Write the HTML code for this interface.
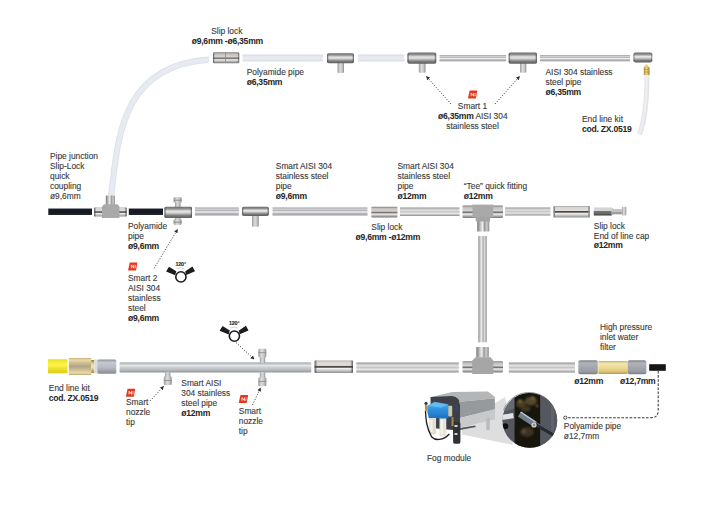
<!DOCTYPE html>
<html><head><meta charset="utf-8">
<style>
html,body{margin:0;padding:0;background:#fff;width:720px;height:513px;overflow:hidden}
svg{display:block}
text{font-family:"Liberation Sans",sans-serif;font-size:8.4px;fill:#3a3a3a;stroke:#3a3a3a;stroke-width:.12px}
.b{font-weight:bold;fill:#262626;stroke:none;font-size:8.6px;letter-spacing:-.25px}
</style></head><body>
<svg width="720" height="513" viewBox="0 0 720 513">
<defs>
<linearGradient id="st" x1="0" y1="0" x2="0" y2="1">
<stop offset="0" stop-color="#9c9694"/><stop offset=".2" stop-color="#d8d6d6"/><stop offset=".38" stop-color="#b4b4ba"/><stop offset=".55" stop-color="#eef0f6"/><stop offset=".75" stop-color="#b8b8bc"/><stop offset="1" stop-color="#9a9898"/>
</linearGradient>
<linearGradient id="stb" x1="0" y1="0" x2="0" y2="1">
<stop offset="0" stop-color="#8a8e92"/><stop offset=".1" stop-color="#babec2"/><stop offset=".3" stop-color="#e2e4e6"/><stop offset=".48" stop-color="#cdd0d3"/><stop offset=".75" stop-color="#b6babe"/><stop offset="1" stop-color="#909498"/>
</linearGradient>
<linearGradient id="nz" x1="0" y1="0" x2="1" y2="0">
<stop offset="0" stop-color="#9a9a9a"/><stop offset=".4" stop-color="#dcdcdc"/><stop offset=".7" stop-color="#c8c8c8"/><stop offset="1" stop-color="#8e8e8e"/>
</linearGradient>
<linearGradient id="ft" x1="0" y1="0" x2="0" y2="1">
<stop offset="0" stop-color="#807a78"/><stop offset=".15" stop-color="#c4bfbc"/><stop offset=".4" stop-color="#d6d2d0"/><stop offset=".55" stop-color="#6e6e6e"/><stop offset=".68" stop-color="#f4f4f4"/><stop offset=".85" stop-color="#aaaaaa"/><stop offset="1" stop-color="#747474"/>
</linearGradient>
<linearGradient id="ftv" x1="0" y1="0" x2="1" y2="0">
<stop offset="0" stop-color="#777"/><stop offset=".25" stop-color="#bdbdbd"/><stop offset=".45" stop-color="#f2f2f2"/><stop offset=".6" stop-color="#9a9a9a"/><stop offset=".8" stop-color="#cfcac4"/><stop offset="1" stop-color="#8a8a8a"/>
</linearGradient>
<linearGradient id="blk" x1="0" y1="0" x2="0" y2="1">
<stop offset="0" stop-color="#111"/><stop offset=".35" stop-color="#3a3a3a"/><stop offset=".6" stop-color="#161616"/><stop offset="1" stop-color="#0c0c0c"/>
</linearGradient>
<linearGradient id="wh" x1="0" y1="0" x2="0" y2="1">
<stop offset="0" stop-color="#d6dae4"/><stop offset=".2" stop-color="#e2e5ee"/><stop offset=".6" stop-color="#eaecf4"/><stop offset="1" stop-color="#d9dce6"/>
</linearGradient>
<linearGradient id="br" x1="0" y1="0" x2="0" y2="1">
<stop offset="0" stop-color="#9a7a3a"/><stop offset=".3" stop-color="#e6d49a"/><stop offset=".55" stop-color="#f3e6b8"/><stop offset="1" stop-color="#a5853f"/>
</linearGradient>
<linearGradient id="sf" x1="0" y1="0" x2="0" y2="1">
<stop offset="0" stop-color="#8a8e96"/><stop offset=".2" stop-color="#c4c8d0"/><stop offset=".55" stop-color="#b8bcc6"/><stop offset="1" stop-color="#868a92"/>
</linearGradient>
<linearGradient id="ye" x1="0" y1="0" x2="0" y2="1">
<stop offset="0" stop-color="#e8e020"/><stop offset=".4" stop-color="#fff34a"/><stop offset="1" stop-color="#d9cc10"/>
</linearGradient>
<marker id="ah" viewBox="0 0 6 6" refX="5" refY="3" markerWidth="4" markerHeight="4" orient="auto-start-reverse" markerUnits="userSpaceOnUse">
<path d="M0,0 L6,3 L0,6 Z" fill="#333"/>
</marker>
<g id="nic"><path d="M1.6,.3 Q1.8,0 2.2,0 H9 Q9.3,0 9.25,.4 L8,7.6 Q7.9,8 7.5,8 H.3 Q0,8 .05,7.6 Z" fill="#e4361a"/><path d="M2.7,2.4 H3.7 L5.3,4.6 V2.4 H6.2 V5.8 H5.3 L3.6,3.6 V5.8 H2.7 Z M6.8,2.4 H7.5 V5.8 H6.8 Z" fill="#fbe6e0"/></g>
<linearGradient id="hx" x1="0" y1="0" x2="0" y2="1">
<stop offset="0" stop-color="#c4aa70"/><stop offset=".12" stop-color="#eadcae"/><stop offset=".3" stop-color="#cdbd92"/><stop offset=".5" stop-color="#b2a686"/><stop offset=".7" stop-color="#cdbd92"/><stop offset=".88" stop-color="#eadcae"/><stop offset="1" stop-color="#bca46a"/>
</linearGradient>
<linearGradient id="sf2" x1="0" y1="0" x2="0" y2="1">
<stop offset="0" stop-color="#7d8187"/><stop offset=".2" stop-color="#b0b4ba"/><stop offset=".5" stop-color="#a4a8ae"/><stop offset=".8" stop-color="#9a9ea4"/><stop offset="1" stop-color="#7a7e84"/>
</linearGradient>
<linearGradient id="bf" x1="0" y1="0" x2="0" y2="1">
<stop offset="0" stop-color="#c8b060"/><stop offset=".2" stop-color="#f2e6b0"/><stop offset=".5" stop-color="#ecdc98"/><stop offset=".8" stop-color="#dcc878"/><stop offset="1" stop-color="#b89c50"/>
</linearGradient>
<linearGradient id="sl" x1="0" y1="0" x2="0" y2="1">
<stop offset="0" stop-color="#a8a4a0"/><stop offset=".12" stop-color="#d8d4d0"/><stop offset=".4" stop-color="#e2dfdc"/><stop offset=".47" stop-color="#4a4a4a"/><stop offset=".55" stop-color="#555"/><stop offset=".62" stop-color="#f4f4f4"/><stop offset=".78" stop-color="#cfcfcf"/><stop offset="1" stop-color="#909090"/>
</linearGradient>
<linearGradient id="ec" x1="0" y1="0" x2="1" y2="0">
<stop offset="0" stop-color="#6a6a6a"/><stop offset=".35" stop-color="#8e8e8e"/><stop offset=".6" stop-color="#c8c8c8"/><stop offset=".85" stop-color="#d8d8d8"/><stop offset="1" stop-color="#9a9a9a"/>
</linearGradient>
<linearGradient id="vp" x1="0" y1="0" x2="1" y2="0">
<stop offset="0" stop-color="#8a8a8a"/><stop offset=".2" stop-color="#c8c8c8"/><stop offset=".42" stop-color="#f0f0f0"/><stop offset=".55" stop-color="#a8a8ac"/><stop offset=".75" stop-color="#dcdcdc"/><stop offset="1" stop-color="#8e8e8e"/>
</linearGradient>
<linearGradient id="bk2" x1="0" y1="0" x2="0" y2="1">
<stop offset="0" stop-color="#2a2e38"/><stop offset=".2" stop-color="#141820"/><stop offset=".8" stop-color="#181c24"/><stop offset="1" stop-color="#2a2e36"/>
</linearGradient>
<linearGradient id="stc" x1="0" y1="0" x2="0" y2="1">
<stop offset="0" stop-color="#8e8e8e"/><stop offset=".14" stop-color="#bcbcbc"/><stop offset=".32" stop-color="#e2e2e2"/><stop offset=".5" stop-color="#c6c6c8"/><stop offset=".7" stop-color="#e6e6e6"/><stop offset=".88" stop-color="#b4b4b4"/><stop offset="1" stop-color="#8a8a8a"/>
</linearGradient>
<linearGradient id="te" x1="0" y1="0" x2="0" y2="1">
<stop offset="0" stop-color="#6a6a6a"/><stop offset=".18" stop-color="#8e8e8e"/><stop offset=".4" stop-color="#e6e6e6"/><stop offset=".55" stop-color="#d2d2d2"/><stop offset=".78" stop-color="#7e7e7e"/><stop offset="1" stop-color="#5e5e5e"/>
</linearGradient>
<linearGradient id="rim" x1="0" y1="0" x2="1" y2="0">
<stop offset="0" stop-color="#444" stop-opacity=".85"/><stop offset=".07" stop-color="#444" stop-opacity="0"/><stop offset=".93" stop-color="#444" stop-opacity="0"/><stop offset="1" stop-color="#444" stop-opacity=".85"/>
</linearGradient>
<linearGradient id="gn" x1="0" y1="0" x2="1" y2="0">
<stop offset="0" stop-color="#b08a30"/><stop offset=".45" stop-color="#f0dc90"/><stop offset="1" stop-color="#a88228"/>
</linearGradient>
</defs>

<!-- ===== TOP ROW ===== -->
<path d="M111,196 C117.9,145.4 117.3,65.7 209,59.7" fill="none" stroke="#dcdfe8" stroke-width="6.2"/>
<path d="M111,196 C117.9,145.4 117.3,65.7 209,59.7" fill="none" stroke="#e8eaf2" stroke-width="4.6"/>
<rect x="213" y="52.3" width="26.2" height="11" rx="1.5" fill="url(#ft)"/><rect x="213" y="52.3" width="26.2" height="11" rx="1.5" fill="url(#rim)"/><rect x="225" y="52.5" width="1" height="10.6" fill="#8a8480" opacity=".7"/>

<rect x="242.5" y="54.5" width="80.5" height="7" fill="url(#wh)"/>
<rect x="358" y="54.5" width="46.5" height="7" fill="url(#wh)"/>
<g id="teeA">
<rect x="337.5" y="60" width="6.5" height="13" rx="1" fill="url(#nz)"/>
<rect x="327" y="53.2" width="27" height="10" rx="2" fill="url(#te)"/><rect x="327" y="53.2" width="27" height="10" rx="2" fill="url(#rim)"/>
</g>
<rect x="418.8" y="60" width="6.7" height="12.8" rx="1" fill="url(#nz)"/>
<rect x="407.5" y="52.5" width="28.7" height="11.2" rx="2" fill="url(#te)"/><rect x="407.5" y="52.5" width="28.7" height="11.2" rx="2" fill="url(#rim)"/>
<rect x="439.5" y="55" width="66.7" height="6.3" fill="url(#st)"/>
<rect x="520" y="60" width="6.3" height="12.8" rx="1" fill="url(#nz)"/>
<rect x="508.7" y="52.5" width="28.3" height="11.2" rx="2" fill="url(#te)"/><rect x="508.7" y="52.5" width="28.3" height="11.2" rx="2" fill="url(#rim)"/>
<rect x="540" y="55" width="90" height="6.3" fill="url(#st)"/>
<rect x="633.6" y="52.6" width="18.6" height="9.8" rx="1.8" fill="url(#te)"/><rect x="633.6" y="52.6" width="18.6" height="9.8" rx="1.8" fill="url(#rim)"/>
<path d="M646.9,75 C647.2,100 645.5,118 639.5,134.5" fill="none" stroke="#e2e4e8" stroke-width="5"/>
<path d="M646.6,75 C646.9,100 645.2,118 639.2,134.5" fill="none" stroke="#eef0f2" stroke-width="2"/>
<path d="M646.4,63.6 L648.3,66.5 L649.5,67.5 V75 H643.8 V67.5 L644.6,66.5 Z" fill="url(#gn)"/><path d="M644,69.5 H649.3 M644,72 H649.3" stroke="#9a7a30" stroke-width=".5"/>

<text x="211.2" y="34.3">Slip lock</text>
<text class="b" x="191.7" y="43.8">ø9,6mm -ø6,35mm</text>
<text x="246.7" y="75">Polyamide pipe</text>
<text class="b" x="246.7" y="85">ø6,35mm</text>
<text x="545.5" y="75">AISI 304 stainless</text>
<text x="545.5" y="85">steel pipe</text>
<text class="b" x="545.5" y="95">ø6,35mm</text>
<text x="582" y="122.2">End line kit</text>
<text class="b" x="582" y="132.1">cod. ZX.0519</text>
<use href="#nic" x="468" y="90.5"/>
<text x="472.5" y="109.3" text-anchor="middle">Smart 1</text>
<text x="472.8" y="118.8" text-anchor="middle"><tspan class="b">ø6,35mm</tspan> AISI 304</text>
<text x="472.5" y="128.5" text-anchor="middle">stainless steel</text>
<path d="M451,104 L426.5,76.5" stroke="#333" stroke-width=".8" stroke-dasharray="1.3 1.4" fill="none" marker-end="url(#ah)"/><path d="M495,104 L519.5,76.5" stroke="#333" stroke-width=".8" stroke-dasharray="1.3 1.4" fill="none" marker-end="url(#ah)"/>

<!-- ===== MIDDLE ROW ===== -->
<rect x="48.3" y="208.5" width="43.7" height="6.5" fill="url(#bk2)"/>
<rect x="128.8" y="208.5" width="34.2" height="6.5" fill="url(#bk2)"/>
<rect x="105.8" y="195.6" width="9.1" height="9.5" rx=".8" fill="url(#ftv)"/>
<rect x="94" y="207.4" width="32.7" height="9.1" rx="1" fill="url(#sl)"/><rect x="94" y="207.4" width="32.7" height="9.1" rx="1" fill="url(#rim)"/><path d="M104,204.3 H117.4 L119.4,206.5 V217.9 H102 V206.5 Z" fill="#a9a9a9"/>
<rect x="175" y="197.5" width="5.5" height="27" fill="url(#nz)"/><rect x="173.6" y="197.3" width="8" height="5.5" rx="1" fill="url(#nz)"/><rect x="173.6" y="199.8" width="8" height=".7" fill="#777"/><rect x="173.6" y="219.2" width="8" height="5.6" rx="1" fill="url(#nz)"/><rect x="173.6" y="221.8" width="8" height=".7" fill="#777"/>
<rect x="164.5" y="206.7" width="27.5" height="11.3" rx="1.5" fill="url(#te)"/><rect x="164.5" y="206.7" width="27.5" height="11.3" rx="1.5" fill="url(#rim)"/>
<rect x="195" y="207.5" width="43.8" height="8" fill="url(#st)"/>
<rect x="252" y="214" width="6.8" height="12.8" rx="1" fill="url(#nz)"/>
<rect x="242" y="206.8" width="26.8" height="9.2" rx="2" fill="url(#te)"/><rect x="242" y="206.8" width="26.8" height="9.2" rx="2" fill="url(#rim)"/>
<rect x="272.5" y="207.5" width="95" height="8" fill="url(#st)"/>
<rect x="371.3" y="206.8" width="26.2" height="10.7" rx="1" fill="url(#ft)"/>
<rect x="400" y="207.5" width="59.5" height="8.5" fill="url(#stc)"/>
<rect x="477.2" y="219" width="12.1" height="12.5" fill="url(#ftv)"/>
<rect x="462.5" y="205.5" width="40.5" height="12.5" rx="1" fill="url(#ft)"/>
<rect x="472.5" y="204.6" width="20.7" height="12.9" fill="#a9a9a9"/><rect x="475.7" y="217" width="14.4" height="4.4" fill="#a4a4a4"/>
<rect x="505" y="207.5" width="45.5" height="8" fill="url(#stc)"/>
<rect x="553.5" y="206.1" width="36.2" height="11.3" rx="1" fill="url(#sl)"/><rect x="553.5" y="206.3" width="1.5" height="11" fill="#8a8a8a"/><rect x="588.3" y="206.3" width="1.5" height="11" fill="#8a8a8a"/>
<rect x="593.8" y="207.4" width="18" height="8.1" fill="#d4d4d4"/><rect x="593.8" y="211.3" width="18" height="4.2" fill="#4e4e4e"/><rect x="593.8" y="212.6" width="18" height=".8" fill="#9a9a9a"/>
<polygon points="611.5,207.6 614,209 621.9,209 621.9,214.6 614,214.6 611.5,215.4" fill="#c4c4c4"/><rect x="611.8" y="212.5" width="10" height="1" fill="#777"/>
<rect x="621.9" y="206.8" width="4.4" height="8.7" rx="1" fill="url(#nz)"/>

<text x="50" y="159.3">Pipe junction</text>
<text x="50" y="169.3">Slip-Lock</text>
<text x="50" y="179.3">quick</text>
<text x="50" y="189.3">coupling</text>
<text x="50" y="199.3">ø9,6mm</text>
<text x="128" y="229.3">Polyamide</text>
<text x="128" y="239.3">pipe</text>
<text class="b" x="128" y="249.3">ø9,6mm</text>
<text x="275.8" y="169.3">Smart AISI 304</text>
<text x="275.8" y="179.3">stainless steel</text>
<text x="275.8" y="189.3">pipe</text>
<text class="b" x="275.8" y="199.3">ø9,6mm</text>
<text x="397.5" y="169.3">Smart AISI 304</text>
<text x="397.5" y="179.3">stainless steel</text>
<text x="397.5" y="189.3">pipe</text>
<text class="b" x="397.5" y="199.3">ø12mm</text>
<text x="463.8" y="189.3">“Tee” quick fitting</text>
<text class="b" x="463.8" y="199.3">ø12mm</text>
<text x="371.3" y="230.1">Slip lock</text>
<text class="b" x="355.5" y="240.1">ø9,6mm -ø12mm</text>
<text x="593.8" y="228.5">Slip lock</text>
<text x="593.8" y="238.5">End of line cap</text>
<text class="b" x="593.8" y="248.4">ø12mm</text>
<use href="#nic" x="128.1" y="262.4"/>
<text x="128" y="281.3">Smart 2</text>
<text x="128" y="291.3">AISI 304</text>
<text x="128" y="301.3">stainless</text>
<text x="128" y="311.3">steel</text>
<text class="b" x="128" y="321.3">ø9,6mm</text>
<path d="M154,268.5 L177.5,229.5" stroke="#333" stroke-width=".8" stroke-dasharray="1.3 1.4" fill="none" marker-end="url(#ah)"/>

<!-- vertical pipe -->
<rect x="478.3" y="236" width="8.4" height="106.3" fill="url(#vp)"/>

<!-- ===== BOTTOM ROW ===== -->
<rect x="48" y="359.2" width="19.5" height="14.1" fill="url(#ye)"/>
<rect x="68.8" y="357.9" width="22.5" height="17.1" rx=".8" fill="url(#hx)"/>
<rect x="91.2" y="360" width="3.2" height="13" fill="url(#br)"/><rect x="94.4" y="359.5" width="3.6" height="14" fill="#dcdcdc"/>
<rect x="97.5" y="359.5" width="18.8" height="14.2" rx="1.5" fill="url(#sf)"/>
<rect x="119.5" y="362.5" width="191.8" height="10" rx="1" fill="url(#stb)"/>
<rect x="165" y="372.3" width="5.4" height="5" fill="url(#nz)"/><rect x="163.8" y="376.5" width="8" height="8.5" rx="1.2" fill="url(#nz)"/><rect x="163.8" y="380" width="8" height=".8" fill="#8a8a8a"/>
<rect x="259.8" y="356" width="5.4" height="7" fill="url(#nz)"/><rect x="258.3" y="348.8" width="8" height="8.5" rx="1.2" fill="url(#nz)"/><rect x="258.3" y="352.3" width="8" height=".8" fill="#8a8a8a"/>
<rect x="259.8" y="372.3" width="5.4" height="6" fill="url(#nz)"/><rect x="258.3" y="377.5" width="8" height="8.8" rx="1.2" fill="url(#nz)"/><rect x="258.3" y="381" width="8" height=".8" fill="#8a8a8a"/>
<rect x="314.6" y="360.4" width="38.4" height="12.6" rx="1" fill="url(#sl)"/><rect x="314.6" y="360.4" width="38.4" height="12.6" rx="1" fill="url(#rim)"/>
<rect x="356.3" y="362.5" width="102.5" height="10" fill="url(#stc)"/>
<rect x="476.3" y="347" width="12.5" height="10.5" fill="url(#ftv)"/>
<rect x="462.5" y="361.3" width="40.5" height="11.2" rx="1" fill="url(#ft)"/>
<path d="M475.5,357.2 H490.5 L493.3,360.5 V373.9 H472.2 V360.5 Z" fill="#a6a6a6"/>
<rect x="508.8" y="362.5" width="66.2" height="10" fill="url(#stc)"/>
<rect x="578.3" y="360.3" width="19.5" height="13.9" rx="2" fill="url(#sf2)"/>
<rect x="598.3" y="361" width="29.3" height="13" rx="1" fill="url(#bf)"/>
<rect x="627.6" y="360.3" width="18.8" height="13.9" rx="2" fill="url(#sf2)"/>
<rect x="649.2" y="364.2" width="16.6" height="6.6" fill="#151515"/>
<path d="M658.2,371 V410.5 Q658.2,417.7 651,417.7 H567" fill="none" stroke="#3a3a3a" stroke-width="1.05" stroke-dasharray="2.6 1.5"/>
<circle cx="565.3" cy="417.7" r="1.6" fill="#fff" stroke="#333" stroke-width=".9"/>
<path d="M236,342.5 L254,359" stroke="#333" stroke-width=".8" stroke-dasharray="1.3 1.4" fill="none" marker-end="url(#ah)"/><path d="M252.5,405 L260.5,388" stroke="#333" stroke-width=".8" stroke-dasharray="1.3 1.4" fill="none" marker-end="url(#ah)"/><path d="M150,401 L163.5,386.5" stroke="#333" stroke-width=".8" stroke-dasharray="1.3 1.4" fill="none" marker-end="url(#ah)"/>

<text x="48.8" y="390.5">End line kit</text>
<text class="b" x="48.8" y="400.5">cod. ZX.0519</text>
<use href="#nic" x="125.9" y="388.7"/>
<text x="126" y="405">Smart</text>
<text x="126" y="415">nozzle</text>
<text x="126" y="425">tip</text>
<text x="181.3" y="385.9">Smart AISI</text>
<text x="181.3" y="395.9">304 stainless</text>
<text x="181.3" y="405.9">steel pipe</text>
<text class="b" x="181.3" y="415.9">ø12mm</text>
<use href="#nic" x="238.8" y="395"/>
<text x="238.8" y="413.8">Smart</text>
<text x="238.8" y="423.8">nozzle</text>
<text x="238.8" y="433.8">tip</text>
<text x="600" y="329.5">High pressure</text>
<text x="600" y="339.5">inlet water</text>
<text x="600" y="349.5">filter</text>
<text class="b" x="574.3" y="383.8">ø12mm</text>
<text class="b" x="620" y="383.8">ø12,7mm</text>
<text x="563.8" y="429.4">Polyamide pipe</text>
<text x="563.8" y="439.2">ø12,7mm</text>
<text x="427" y="460.9">Fog module</text>

<!-- fog module -->
<defs>
<clipPath id="cc"><circle cx="529.8" cy="420.4" r="27.4"/></clipPath>
<linearGradient id="hs" x1="0" y1="0" x2="0" y2="1">
<stop offset="0" stop-color="#b4b6b8"/><stop offset=".35" stop-color="#a2a5a7"/><stop offset=".55" stop-color="#8f9294"/><stop offset=".75" stop-color="#b9bbbd"/><stop offset="1" stop-color="#cfd1d2"/>
</linearGradient>
<linearGradient id="bl" x1="0" y1="0" x2="0" y2="1">
<stop offset="0" stop-color="#5ab4f4"/><stop offset=".5" stop-color="#2d8fe0"/><stop offset="1" stop-color="#1f6fc0"/>
</linearGradient>
</defs>
<filter id="bl1" x="-5%" y="-5%" width="110%" height="110%"><feGaussianBlur stdDeviation=".45"/></filter><filter id="bl2"><feGaussianBlur stdDeviation="1.3"/></filter>
<g filter="url(#bl1)">
<polygon points="494.5,403.5 505,397 513,445 462,434.5 462,420" fill="#dedede"/>
<polygon points="431,397 452,392 488,391.5 495,397 494.8,398.2 460,401.7" fill="#b3b5b6"/>
<polygon points="460,401.7 494.8,398.2 495,409.3 460,418" fill="#979a9c"/>
<polygon points="460,418 495,409.3 495,419.3 460,427.5" fill="#c7c9ca"/>
<rect x="486.2" y="418" width="3.6" height="12" rx="1" fill="#b9bbbd"/>
<polygon points="460,428 475,425.5 476,427 460,430" fill="#55585c"/>
<path d="M430.5,397 L452,396 Q460,397 460,405 L460,443.4 L453.4,443.4 L453,430 L431,428 Z" fill="#3d4046"/>
<rect x="453.4" y="421.8" width="7" height="21.8" rx="2" fill="#2e3035"/>
<path d="M429.3,417 H436.1 V433 Q436.1,434.5 434.5,434.5 H431 Q429.3,434.5 429.3,433 Z" fill="#e2ded2"/>
<path d="M439.5,417 H446.3 V435 Q446.3,436.5 444.7,436.5 H441.1 Q439.5,436.5 439.5,435 Z" fill="#e8e4d8"/>
<rect x="430.5" y="420" width="2" height="12" fill="#f4f2ea"/><rect x="440.8" y="420" width="2" height="14" fill="#f6f4ec"/>
<path d="M427.3,405.7 L434.6,401.8 L448.3,404.3 L449.3,414.5 L448.3,418.4 L437.6,418.4 L436.6,417.9 L428.8,417.9 L427.3,412 Z" fill="url(#bl)"/>
<path d="M428.5,406 L434.6,402.6 L447,404.8 L441,407.5 Z" fill="#6cc0f4" opacity=".8"/>
<path d="M425.5,411 C426,420 426.5,428 431.7,437 C435,440.5 443,441 449.3,434" fill="none" stroke="#1e1e1e" stroke-width="1.3"/>
<rect x="424.9" y="403.8" width="2.4" height="7.3" fill="#b09848"/><circle cx="426" cy="403.3" r="1.5" fill="#2a3450"/>
<rect x="448.3" y="405.7" width="3.9" height="10.8" rx="1" fill="#cfc6a8"/>
<rect x="451.5" y="417" width="2" height="9" fill="#a08848"/><rect x="455.5" y="405" width="1.6" height="6" fill="#2f4a7a"/>
<rect x="454.5" y="425" width="3" height="2" fill="#d8d8d8"/><rect x="454.5" y="433" width="3" height="2" fill="#d0d0d0"/>
<g clip-path="url(#cc)">
<rect x="500" y="390" width="60" height="60" fill="#55575e"/>
<polygon points="500,390 514.6,390 514.6,408 500,413" fill="#686a72"/>
<rect x="514.6" y="390" width="25.8" height="60" fill="#16140f"/>
<g filter="url(#bl2)"><ellipse cx="521" cy="404" rx="5" ry="4" fill="#4a3e22"/>
<ellipse cx="531" cy="401" rx="6" ry="4.5" fill="#54462a"/>
<ellipse cx="526" cy="409" rx="5" ry="3" fill="#3e3420"/>
<circle cx="520" cy="401" r="1.6" fill="#8a7840"/>
<circle cx="533" cy="398" r="1.4" fill="#8c7a44"/>
<circle cx="537" cy="406" r="1.2" fill="#7a6a3a"/>
<ellipse cx="527" cy="432" rx="7" ry="5" fill="#3c3020"/>
<circle cx="524" cy="431" r="1.5" fill="#6e5e34"/></g>
<rect x="540.4" y="390" width="20" height="60" fill="#56585f"/>
<rect x="551" y="390" width="3" height="60" fill="#62646b"/>
<rect x="501" y="414" width="12.5" height="5.2" fill="#dfe1e5" transform="rotate(-8 507 416.5)"/>
<circle cx="505.3" cy="426.3" r="3" fill="#111"/>
<line x1="536" y1="424.5" x2="558" y2="437" stroke="#262a30" stroke-width="4.2"/>
<line x1="537" y1="423.2" x2="558" y2="435.2" stroke="#6a707a" stroke-width=".9"/>
<line x1="519.5" y1="414" x2="535.5" y2="424.5" stroke="#6e7e8a" stroke-width="6"/>
<line x1="520.5" y1="412" x2="535.5" y2="422" stroke="#c2ccd4" stroke-width="1.1"/>
<circle cx="534" cy="425" r="2.6" fill="#d0ccc0"/>
<circle cx="534" cy="425" r="1.2" fill="#8a8a80"/>
</g>
<path d="M503.5,410 A27.4,27.4 0 0 1 545,397.5" fill="none" stroke="#7a7c82" stroke-width=".8"/>

</g>
<!-- 120 icons -->
<g transform="translate(180.9,276.9)">
<path d="M-11.9,-10.1 L-14.8,-5.4 L-5.7,-1.6 L-4.6,-5.7 Z M11.5,-10.4 L14.1,-5.7 L5.4,-1.9 L4.2,-5.4 Z" fill="#1c1c1c"/>
<circle r="5.1" fill="#fff" stroke="#1c1c1c" stroke-width="1.6"/>
<text y="-11.2" x="-0.2" text-anchor="middle" style="font-size:5.4px;font-weight:bold;fill:#1e1e1e;letter-spacing:-.2px">120°</text>
<path d="M-4.3,-8 Q0,-10.2 3.6,-8" fill="none" stroke="#bbb" stroke-width=".6"/>
</g>
<g transform="translate(234.4,336.1)">
<path d="M-11.9,-10.1 L-14.8,-5.4 L-5.7,-1.6 L-4.6,-5.7 Z M11.5,-10.4 L14.1,-5.7 L5.4,-1.9 L4.2,-5.4 Z" fill="#1c1c1c"/>
<circle r="5.1" fill="#fff" stroke="#1c1c1c" stroke-width="1.6"/>
<text y="-11.2" x="-0.2" text-anchor="middle" style="font-size:5.4px;font-weight:bold;fill:#1e1e1e;letter-spacing:-.2px">120°</text>
<path d="M-4.3,-8 Q0,-10.2 3.6,-8" fill="none" stroke="#bbb" stroke-width=".6"/>
</g>
</svg>
</body></html>
